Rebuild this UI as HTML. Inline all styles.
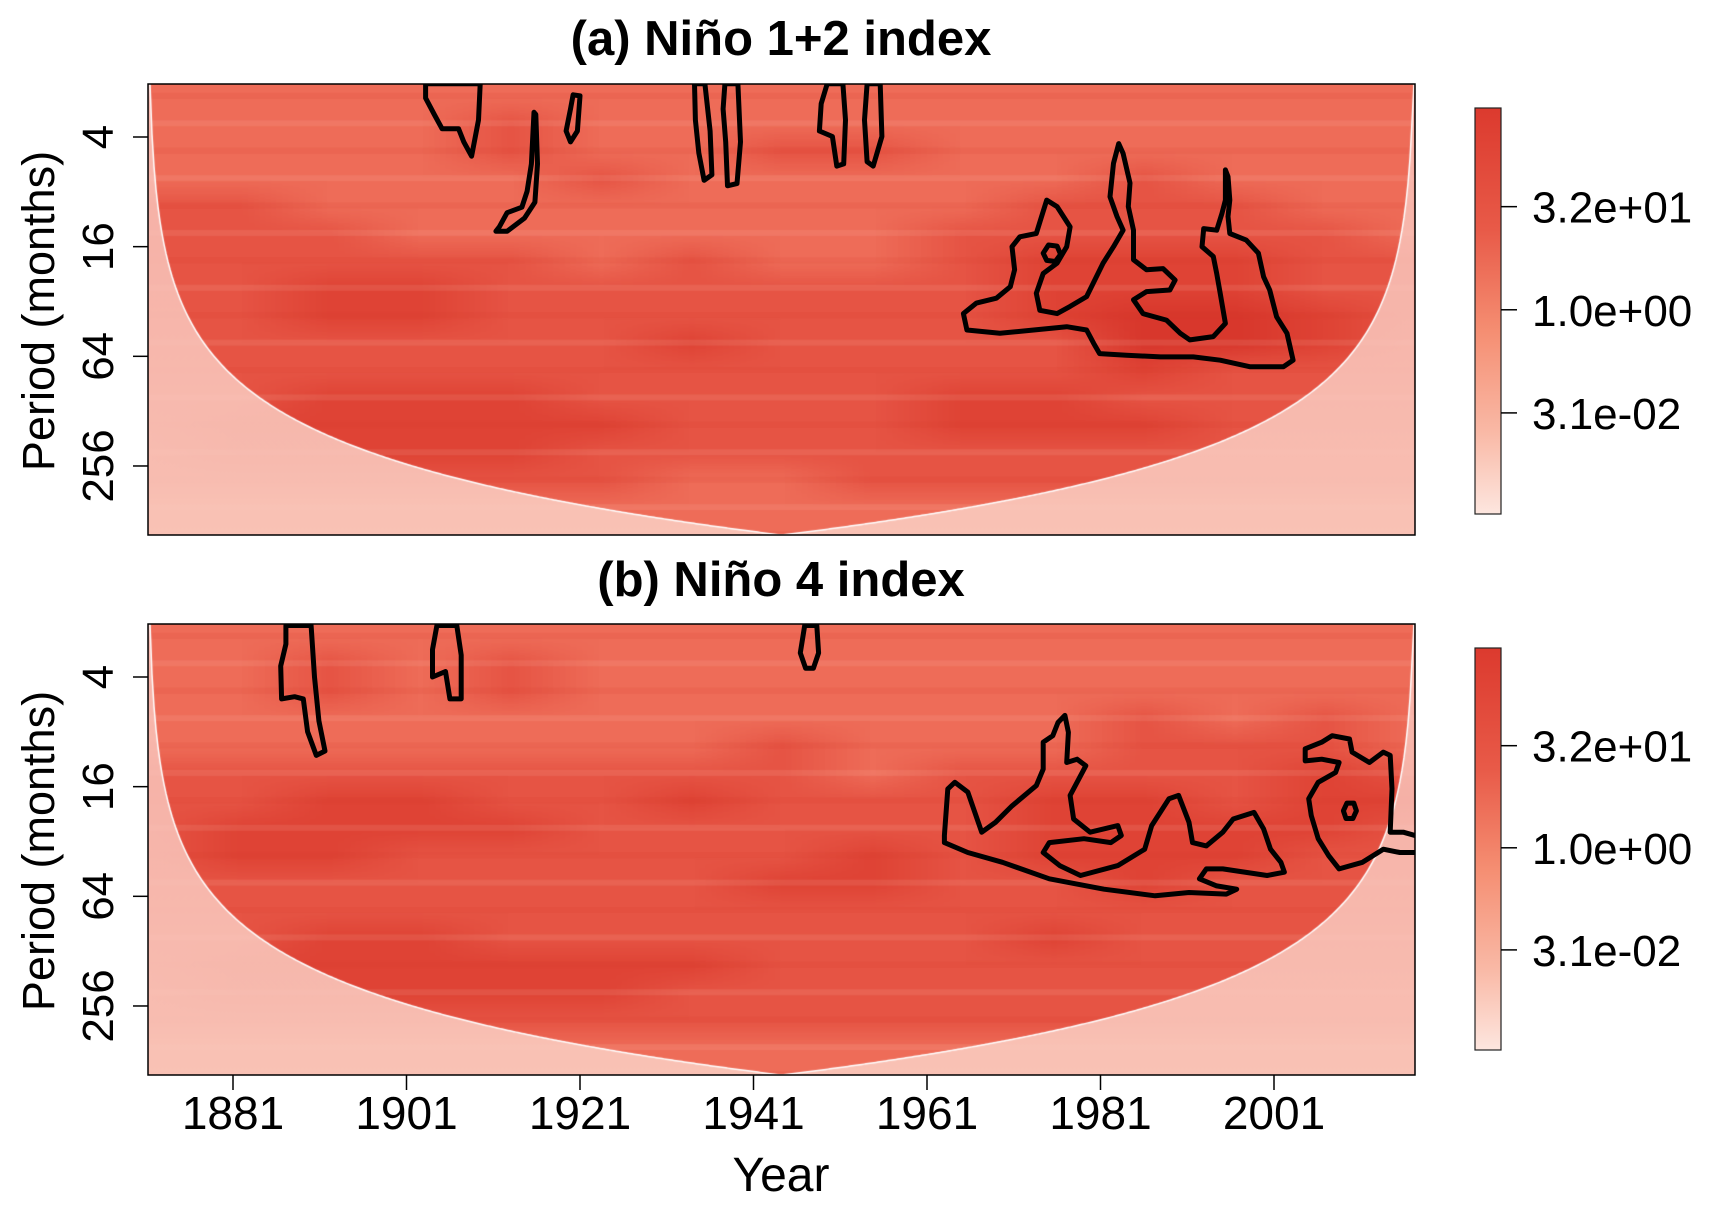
<!DOCTYPE html>
<html><head><meta charset="utf-8">
<style>
html,body{margin:0;padding:0;background:#fff;}
#root{position:relative;width:1712px;height:1209px;overflow:hidden;font-family:"Liberation Sans",Arial,sans-serif;}
canvas{position:absolute;}
svg{position:absolute;left:0;top:0;}
</style></head>
<body>
<div id="root">
<canvas id="hmA"></canvas>
<canvas id="hmB"></canvas>
<svg id="ov" width="1712" height="1209"></svg>
</div>
<script>
// ---- data ----
const xTickYears = [1881, 1901, 1921, 1941, 1961, 1981, 2001];
const yTickPeriods = [4, 16, 64, 256];
const cbLabels = ["3.2e+01", "1.0e+00", "3.1e-02"];
const gridYears = [1871,1881,1891,1901,1911,1921,1931,1941,1951,1961,1971,1981,1991,2001,2017];
const gridLog2 = [1.25,1.75,2.25,2.75,3.25,3.75,4.25,4.75,5.25,5.75,6.25,6.75,7.25,7.75,8.25,8.75,9.25];
const powerA = [
[6,6,6,6,6,6,6,6,6,6,6,6,6,6,6],
[6,6,6,6,7,6,6,6,6,6,6,6,6,6,6],
[6,6,6,6,7,6,6,7,7,6,6,6,6,6,6],
[6,6,6,6,6,7,6,6,6,6,6,7,6,6,6],
[7,7,6,6,6,6,6,6,6,6,7,7,7,6,6],
[7,7,7,6,6,6,6,6,6,7,7,7,7,7,6],
[7,7,7,7,7,6,7,6,6,7,8,8,8,7,7],
[7,7,8,8,7,7,7,7,7,7,8,8,8,7,7],
[7,7,8,8,7,7,7,7,7,7,8,9,9,8,7],
[7,7,7,7,7,7,8,7,7,7,7,9,9,8,7],
[7,7,7,7,7,7,7,7,7,7,7,8,7,7,7],
[7,7,8,8,8,7,7,7,7,8,8,7,7,7,7],
[7,8,8,8,8,8,7,7,7,8,8,8,7,7,7],
[7,8,8,8,8,7,7,7,7,7,7,7,7,7,7],
[7,7,7,7,7,7,6,6,7,7,7,7,7,7,7],
[6,6,6,6,6,6,6,6,6,6,6,6,6,6,6],
[6,6,6,6,6,6,6,6,6,6,6,6,6,6,6]];
const powerB = [
[6,6,6,6,6,6,6,6,6,6,6,6,6,6,6],
[6,6,7,6,7,6,6,6,6,6,6,6,6,6,6],
[6,6,7,6,7,6,6,6,6,6,6,6,6,6,6],
[6,6,6,6,6,6,6,6,6,6,6,7,6,7,6],
[6,6,6,6,6,6,6,7,6,6,6,7,7,7,6],
[7,7,7,7,7,7,7,7,6,7,7,7,7,8,7],
[7,7,8,8,7,7,8,7,7,7,8,8,7,8,8],
[7,8,8,8,8,7,7,7,7,7,8,8,8,8,7],
[7,8,8,7,7,7,7,7,8,7,8,8,8,7,7],
[7,7,7,7,7,7,7,8,8,7,7,8,7,7,7],
[7,7,7,7,7,7,7,7,7,7,7,7,7,7,7],
[7,7,8,8,7,7,7,7,7,7,8,7,7,7,7],
[7,8,8,8,8,8,8,7,7,7,7,7,7,7,7],
[7,8,8,8,8,8,7,7,7,7,7,7,7,7,7],
[7,7,7,7,7,7,7,7,7,7,7,7,7,7,7],
[6,6,6,6,6,6,6,6,6,6,6,6,6,6,6],
[6,6,6,6,6,6,6,6,6,6,6,6,6,6,6]];
// contours: [year, log2(period)]
const contoursA = [
[[1903.2,1.03],[1909.5,1.03],[1909.3,1.69],[1908.5,2.35],[1907.6,2.09],[1907.0,1.85],[1905.1,1.85],[1904.2,1.59],[1903.2,1.29]],
[[1915.7,1.55],[1915.4,2.49],[1914.9,2.99],[1914.3,3.28],[1912.6,3.38],[1911.7,3.64],[1911.3,3.72],[1912.6,3.72],[1914.6,3.48],[1915.8,3.19],[1916.1,2.49],[1915.9,1.59]],
[[1920.2,1.23],[1921.0,1.25],[1920.7,1.89],[1919.9,2.09],[1919.4,1.89],[1919.9,1.49]],
[[1934.2,1.03],[1935.4,1.03],[1936.0,1.89],[1936.2,2.69],[1935.3,2.79],[1934.7,2.29],[1934.3,1.69]],
[[1937.7,1.03],[1939.2,1.03],[1939.5,2.09],[1939.1,2.85],[1938.0,2.89],[1937.8,2.09],[1937.5,1.49]],
[[1949.5,1.03],[1951.3,1.03],[1951.6,1.69],[1951.4,2.49],[1950.6,2.53],[1950.1,1.99],[1948.6,1.89],[1948.8,1.39]],
[[1954.1,1.03],[1955.6,1.03],[1955.8,1.99],[1954.8,2.53],[1954.1,2.45],[1953.8,1.69]],
[[1965.2,5.22],[1966.7,5.03],[1969.0,4.94],[1970.6,4.73],[1971.1,4.42],[1970.8,4.00],[1971.7,3.82],[1973.6,3.76],[1974.8,3.15],[1976.0,3.27],[1977.5,3.64],[1977.1,4.00],[1976.0,4.30],[1974.4,4.49],[1973.6,4.85],[1974.0,5.16],[1976.0,5.22],[1977.5,5.09],[1979.4,4.91],[1981.3,4.30],[1982.5,4.00],[1983.6,3.70],[1982.9,3.45],[1982.1,3.09],[1982.5,2.48],[1983.1,2.12],[1983.6,2.30],[1984.4,2.84],[1984.2,3.27],[1984.8,3.70],[1984.8,4.24],[1986.3,4.42],[1988.2,4.40],[1989.6,4.61],[1989.0,4.79],[1986.3,4.82],[1984.8,4.97],[1985.9,5.22],[1988.6,5.34],[1990.2,5.58],[1991.3,5.70],[1994.0,5.64],[1995.4,5.40],[1994.8,4.85],[1994.4,4.49],[1994.0,4.18],[1992.7,4.00],[1992.9,3.67],[1994.4,3.70],[1995.0,3.39],[1995.4,3.15],[1995.4,2.60],[1995.7,2.72],[1995.9,3.15],[1995.7,3.45],[1995.9,3.76],[1997.8,3.88],[1999.2,4.12],[1999.8,4.55],[2000.5,4.79],[2001.3,5.28],[2002.5,5.58],[2003.2,6.07],[2002.1,6.19],[1998.2,6.19],[1994.8,6.07],[1991.7,6.01],[1987.9,6.01],[1984.0,5.98],[1980.9,5.95],[1980.2,5.76],[1979.4,5.52],[1977.1,5.46],[1973.3,5.52],[1969.4,5.58],[1965.6,5.52]],
[[1974.4,4.12],[1975.0,3.97],[1976.0,3.99],[1976.4,4.14],[1975.8,4.27],[1974.8,4.25]]
];
const contoursB = [
[[1887.1,1.06],[1890.0,1.06],[1890.4,2.0],[1890.9,2.80],[1891.6,3.35],[1890.6,3.43],[1889.6,3.0],[1889.1,2.40],[1888.1,2.36],[1886.6,2.40],[1886.5,1.80],[1887.1,1.40]],
[[1904.5,1.06],[1906.8,1.06],[1907.3,1.60],[1907.3,2.40],[1906.0,2.40],[1905.5,1.90],[1904.0,2.0],[1904.0,1.50]],
[[1946.9,1.06],[1948.3,1.06],[1948.5,1.56],[1947.9,1.84],[1947.0,1.84],[1946.4,1.56]],
[[1963.0,4.89],[1963.4,4.04],[1964.2,3.92],[1965.7,4.10],[1967.3,4.83],[1968.9,4.65],[1970.8,4.35],[1973.6,3.98],[1974.4,3.68],[1974.4,3.19],[1975.5,3.07],[1976.1,2.83],[1976.9,2.70],[1977.3,3.01],[1977.1,3.56],[1978.3,3.50],[1979.3,3.62],[1977.5,4.16],[1977.9,4.59],[1979.8,4.83],[1983.0,4.71],[1983.4,4.89],[1982.2,5.02],[1979.1,4.95],[1975.1,5.02],[1974.4,5.20],[1976.3,5.44],[1978.7,5.62],[1983.0,5.44],[1986.1,5.14],[1986.9,4.71],[1988.9,4.22],[1990.0,4.16],[1991.2,4.65],[1991.6,5.02],[1993.2,5.08],[1995.1,4.83],[1996.3,4.59],[1998.7,4.47],[1999.8,4.77],[2000.6,5.14],[2001.8,5.38],[2002.2,5.56],[2000.2,5.62],[1995.1,5.50],[1993.2,5.50],[1992.4,5.68],[1994.4,5.81],[1996.7,5.87],[1995.5,5.96],[1991.2,5.93],[1987.3,5.99],[1981.4,5.87],[1975.1,5.68],[1969.7,5.38],[1965.7,5.20],[1963.0,5.02]],
[[2004.6,3.31],[2006.5,3.19],[2007.7,3.07],[2009.7,3.13],[2010.0,3.37],[2012.0,3.56],[2013.6,3.37],[2014.4,3.43],[2014.6,4.04],[2014.4,4.83],[2015.9,4.83],[2017.9,4.92],[2017.7,5.20],[2015.5,5.20],[2013.6,5.14],[2011.2,5.38],[2008.5,5.50],[2007.3,5.26],[2006.1,4.95],[2005.3,4.53],[2005.0,4.22],[2006.1,3.92],[2008.1,3.74],[2008.5,3.56],[2006.5,3.50],[2004.6,3.53]],
[[2009.0,4.44],[2009.4,4.30],[2010.2,4.30],[2010.5,4.44],[2010.1,4.58],[2009.3,4.58]]
];
// ---- geometry ----
const L = 148, R = 1415, W = R - L, H = 451;
const panels = [
  {id:"a", top:84, title:"(a) Niño 1+2 index", titleY:55, power:powerA, contours:contoursA, cv:"hmA", cbTop:108, cbBot:514},
  {id:"b", top:624, title:"(b) Niño 4 index", titleY:596, power:powerB, contours:contoursB, cv:"hmB", cbTop:648, cbBot:1050}
];
const T0 = 1871.2, T1 = 2017.3;
function xOf(yr){ return 233 + (yr - 1881) * 8.675; }
function yOf(p, l2){ return p.top + 53 + (l2 - 2) * 54.83; }
function colorOf(v){
  const stops = [[0,[253,228,220]],[4,[246,160,138]],[6,[238,108,88]],[7,[230,84,68]],[8,[223,67,53]],[9,[216,55,44]]];
  for (let i=0;i<stops.length-1;i++){
    const a=stops[i], b=stops[i+1];
    if (v<=b[0]){ const t=(v-a[0])/(b[0]-a[0]); return a[1].map((c,k)=>Math.round(c+(b[1][k]-c)*t)); }
  }
  return stops[stops.length-1][1];
}
function coiL2(yr){
  const d = Math.max(0.01, Math.min(yr - T0, T1 - yr)) * 12;
  return Math.log2(0.7 * d);
}
const NS = "http://www.w3.org/2000/svg";
const svg = document.getElementById("ov");
function mk(tag, attrs, parent){
  const e = document.createElementNS(NS, tag);
  for (const k in attrs) e.setAttribute(k, attrs[k]);
  (parent||svg).appendChild(e);
  return e;
}
panels.forEach(p => {
  const cv = document.getElementById(p.cv);
  cv.width = W; cv.height = H;
  cv.style.left = L + "px"; cv.style.top = p.top + "px";
  const ctx = cv.getContext("2d");
  const nr = gridLog2.length, nc = gridYears.length;
  const small = document.createElement("canvas");
  small.width = nc; small.height = nr;
  const sctx = small.getContext("2d");
  const img = sctx.createImageData(nc, nr);
  for (let r=0;r<nr;r++) for (let c=0;c<nc;c++){
    const col = colorOf(p.power[r][c]);
    const i = (r*nc+c)*4;
    img.data[i]=col[0]; img.data[i+1]=col[1]; img.data[i+2]=col[2]; img.data[i+3]=255;
  }
  sctx.putImageData(img,0,0);
  ctx.imageSmoothingEnabled = true;
  const x0 = xOf(gridYears[0]) - L, x1 = xOf(gridYears[nc-1]) - L;
  const y0 = yOf(p, gridLog2[0]) - p.top, y1 = yOf(p, gridLog2[nr-1]) - p.top;
  const cw = (x1-x0)/(nc-1), ch = (y1-y0)/(nr-1);
  ctx.fillStyle = "rgb(236,100,82)";
  ctx.fillRect(0,0,W,H);
  ctx.drawImage(small, x0 - cw/2, y0 - ch/2, cw*nc, ch*nr);
  ctx.globalAlpha = 0.12;
  for (let r=0;r<nr;r++){
    const yy = yOf(p, gridLog2[r]) - p.top;
    ctx.fillStyle = (r%2) ? "#ffd0c0" : "#d8382c";
    ctx.fillRect(0, yy - 3, W, 6);
  }
  ctx.globalAlpha = 1;
  ctx.save();
  ctx.beginPath();
  ctx.moveTo(0, 0);
  for (let x=0;x<=W;x+=2){
    const yr = T0 + x/8.675;
    let yy = yOf(p, coiL2(yr)) - p.top;
    yy = Math.max(0, Math.min(H, yy));
    ctx.lineTo(x, yy);
  }
  ctx.lineTo(W, H); ctx.lineTo(0, H); ctx.closePath();
  const g = ctx.createLinearGradient(0,0,0,H);
  g.addColorStop(0, "rgba(250,198,190,0.78)");
  g.addColorStop(1, "rgba(251,206,194,0.88)");
  ctx.fillStyle = g;
  ctx.fill();
  ctx.restore();
  ctx.beginPath();
  for (let x=0;x<=W;x+=2){
    const yr = T0 + x/8.675;
    let yy = yOf(p, coiL2(yr)) - p.top;
    yy = Math.max(0, Math.min(H, yy));
    if (x===0) ctx.moveTo(x,yy); else ctx.lineTo(x,yy);
  }
  ctx.strokeStyle = "#ffffff"; ctx.lineWidth = 1.5; ctx.stroke();

  const clipId = "clip" + p.id;
  const cp = mk("clipPath", {id: clipId});
  mk("rect", {x:L, y:p.top, width:W, height:H}, cp);
  const cg = mk("g", {"clip-path":"url(#"+clipId+")"});
  
  
  p.contours.forEach((c, i) => {
    const pts = c.map(q => xOf(q[0]).toFixed(1) + "," + yOf(p, q[1]).toFixed(1)).join(" ");
    const poly = mk("polygon", {points: pts, fill:"none", stroke:"#000", "stroke-width":5, "stroke-linejoin":"round"}, cg);
    
    
  });
  const fr = mk("rect", {x:L, y:p.top, width:W, height:H, fill:"none", stroke:"#000", "stroke-width":1.5});
  
  
  const t = mk("text", {x:781, y:p.titleY, "text-anchor":"middle", "font-size":49, "font-weight":"bold", fill:"#000"});
  t.textContent = p.title;
  
  
  yTickPeriods.forEach(v => {
    const yy = yOf(p, Math.log2(v));
    mk("line", {x1:L-15, x2:L, y1:yy, y2:yy, stroke:"#000", "stroke-width":1.5});
    const lt = mk("text", {x:0, y:0, transform:"translate(113,"+yy+") rotate(-90)", "text-anchor":"middle", "font-size":44, fill:"#000"});
    lt.textContent = v;
    
    
  });
  const yt = mk("text", {x:0, y:0, transform:"translate(54,"+(p.top+227)+") rotate(-90)", "text-anchor":"middle", "font-size":45, fill:"#000"});
  yt.textContent = "Period (months)";
  
  
  const gid = "cbg" + p.id;
  const lg = mk("linearGradient", {id:gid, x1:0, y1:0, x2:0, y2:1});
  [[0,"#dc3a2e"],[0.3,"#e85a48"],[0.55,"#f58e72"],[0.8,"#f9b9a6"],[1,"#fde6df"]].forEach(s => mk("stop", {offset:s[0], "stop-color":s[1]}, lg));
  const cb = mk("rect", {x:1475, y:p.cbTop, width:26, height:p.cbBot-p.cbTop, fill:"url(#"+gid+")", stroke:"#222", "stroke-width":1.2});
  
  
  const span = p.cbBot - p.cbTop;
  [0.243, 0.497, 0.751].forEach((f, i) => {
    const yy = p.cbTop + f * span;
    mk("line", {x1:1501, x2:1517, y1:yy, y2:yy, stroke:"#000", "stroke-width":1.5});
    const ct = mk("text", {x:1532, y:yy+16, "font-size":44, fill:"#000"});
    ct.textContent = cbLabels[i];
    
    
  });
});
xTickYears.forEach(yr => {
  const xx = xOf(yr);
  mk("line", {x1:xx, x2:xx, y1:1075, y2:1090, stroke:"#000", "stroke-width":1.5});
  const tt = mk("text", {x:xx, y:1129, "text-anchor":"middle", "font-size":46, fill:"#000"});
  tt.textContent = yr;
  
  
});
const xt = mk("text", {x:781, y:1191, "text-anchor":"middle", "font-size":48, fill:"#000"});
xt.textContent = "Year";


</script>
</body></html>
